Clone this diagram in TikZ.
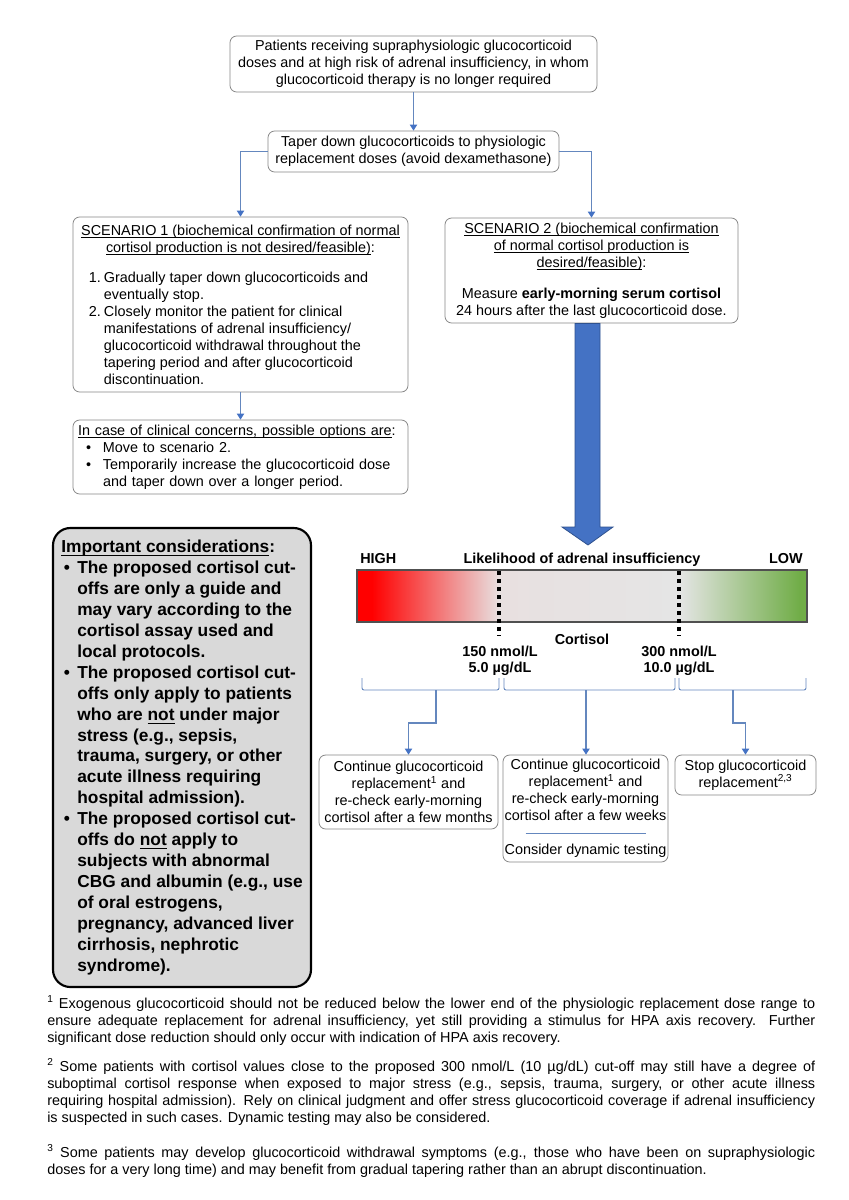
\documentclass[tikz,border=0pt]{standalone}
\usepackage{fontspec}
\setmainfont{Liberation Sans}
\usetikzlibrary{arrows.meta,calc}
\definecolor{boxgray}{RGB}{135,135,135}
\definecolor{connblue}{RGB}{100,135,190}
\definecolor{tipblue}{RGB}{68,114,196}
\definecolor{bigblue}{RGB}{68,114,196}
\definecolor{bigedge}{RGB}{47,82,143}
\definecolor{notefill}{RGB}{217,217,217}
\definecolor{barred}{RGB}{255,0,0}
\definecolor{barpink}{RGB}{232,224,224}
\definecolor{bargray}{RGB}{229,229,229}
\definecolor{barlight}{RGB}{236,236,236}
\definecolor{bargreen}{RGB}{112,173,71}
\definecolor{baredge}{RGB}{80,80,80}
\newcommand{\myul}[1]{\setbox0\hbox{#1}\rlap{\rule[-2.2pt]{\wd0}{0.5pt}}\box0\relax}
\newcommand{\myulb}[1]{\setbox0\hbox{#1}\rlap{\rule[-2.6pt]{\wd0}{0.8pt}}\box0\relax}
\begin{document}
\begin{tikzpicture}[x=0.75pt,y=-0.75pt,
  txt/.style={font=\fontsize{10.8}{12.75}\selectfont},
  btxt/.style={font=\fontsize{10.8}{12.75}\selectfont\bfseries, inner sep=0pt},
  box/.style={txt, draw=boxgray, line width=0.6pt, rounded corners=5pt, align=center, inner sep=0pt},
  conn/.style={draw=connblue, line width=0.8pt, -{Triangle[width=5.5pt,length=4.5pt,color=tipblue]}},
  bracketline/.style={draw=connblue, line width=0.7pt, rounded corners=1.5pt},
  cutline/.style={line width=2.4pt, dash pattern=on 3pt off 3pt},
  ]
\fill[white] (0,0) rectangle (849,1200);
\useasboundingbox (0,0) rectangle (849,1200);

% top boxes
\node[box, minimum width=275.25pt, minimum height=42pt] (start) at (413.5,64)
  {Patients receiving supraphysiologic glucocorticoid\\doses and at high risk of adrenal insufficiency, in whom\\glucocorticoid therapy is no longer required};
\node[box, minimum width=218.25pt, minimum height=30.75pt] (taper) at (413.5,151.5)
  {Taper down glucocorticoids to physiologic\\replacement doses (avoid dexamethasone)};

% scenario 1
\node[box, align=left, inner xsep=3.125pt, minimum width=251.25pt, minimum height=131.25pt] (sc1) at (240.5,304.5)
  {\makebox[245pt][c]{\myul{SCENARIO 1 (biochemical confirmation of normal}}\\
   \makebox[245pt][c]{\myul{cortisol production is not desired/feasible)}:}\\[9.75pt]
   \hspace*{8.85pt}\makebox[11.25pt][l]{1.}Gradually taper down glucocorticoids and\\
   \hspace*{20.1pt}eventually stop.\\
   \hspace*{8.85pt}\makebox[11.25pt][l]{2.}Closely monitor the patient for clinical\\
   \hspace*{20.1pt}manifestations of adrenal insufficiency/\\
   \hspace*{20.1pt}glucocorticoid withdrawal throughout the\\
   \hspace*{20.1pt}tapering period and after glucocorticoid\\
   \hspace*{20.1pt}discontinuation.};

\node[box, align=left, text width=243.75pt, inner xsep=3.75pt, minimum width=251.25pt, minimum height=55.5pt] (concerns) at (240.5,457)
  {\myul{In case of clinical concerns, possible options are}:\\
   \hspace*{6pt}\makebox[12.75pt][l]{•}Move to scenario 2.\\
   \hspace*{6pt}\makebox[12.75pt][l]{•}Temporarily increase the glucocorticoid dose\\
   \hspace*{18.75pt}and taper down over a longer period.};

% scenario 2
\node[box, minimum width=219.75pt, minimum height=78.75pt] (sc2) at (591.5,270.5)
  {\myul{SCENARIO 2 (biochemical confirmation}\\\myul{of normal cortisol production is}\\\myul{desired/feasible)}:\\[10.5pt]
   Measure \textbf{early-morning serum cortisol}\\24 hours after the last glucocorticoid dose.};

% connectors top
\draw[conn] (start.south) -- (taper.north);
\draw[conn] (taper.west) -| (sc1.north);
\draw[conn] (taper.east) -| (sc2.north);
\draw[conn] (sc1.south) -- (concerns.north);

% big arrow
\coordinate (atop) at ($(sc2.south)+(-4,0)$);
\coordinate (atip) at (588,545);
\filldraw[fill=bigblue, draw=bigedge, line width=0.6pt]
  ($(atop)+(-12.5,0)$) -- ($(atop)+(12.5,0)$) -- ($(atip)+(12,-18)$) -- ($(atip)+(25,-18)$)
  -- (atip) -- ($(atip)+(-26,-18)$) -- ($(atip)+(-13,-18)$) -- cycle;

% gradient bar
\fill[barred] (357,570) rectangle (372,622);
\shade[left color=barred, right color=barpink] (372,570) rectangle (499,622);
\shade[left color=barpink, middle color=barlight, right color=bargray] (499,570) rectangle (679,622);
\shade[left color=bargray, right color=bargreen] (679,570) rectangle (800,622);
\fill[bargreen] (800,570) rectangle (807,622);
\node[draw=baredge, line width=0.8pt, minimum width=337.5pt, minimum height=39pt, inner sep=0pt] (bar) at (582,596) {};

\coordinate (c150t) at (499,571);
\coordinate (c150b) at (499,636);
\coordinate (c300t) at (679,571);
\coordinate (c300b) at (679,636);
\draw[cutline] (c150t) -- (c150b);
\draw[cutline] (c300t) -- (c300b);

\node[btxt, anchor=base west] (high) at (360,563) {HIGH};
\node[btxt, anchor=base east] (low) at (803,563) {LOW};
\node[btxt, anchor=base] (likely) at (582,563) {Likelihood of adrenal insufficiency};
\node[btxt, anchor=base] (cortisol) at (582,644) {Cortisol};
\node[btxt, anchor=base] (n150) at (500,656) {150 nmol/L};
\node[btxt, anchor=base] (u150) at (500,672) {5.0 µg/dL};
\node[btxt, anchor=base] (n300) at (679,656) {300 nmol/L};
\node[btxt, anchor=base] (u300) at (679,672) {10.0 µg/dL};

% brackets
\draw[bracketline] (362,678) -- (362,690) -- (499,690) -- (499,678);
\draw[bracketline] (504,678) -- (504,690) -- (675,690) -- (675,678);
\draw[bracketline] (679,678) -- (679,690) -- (806,690) -- (806,678);
\coordinate (b1) at (436,690);
\coordinate (b2) at (586,690);
\coordinate (b3) at (733,690);

% bottom boxes
\node[box, minimum width=134.25pt, minimum height=55.5pt] (boxA) at (408.5,792)
  {Continue glucocorticoid\\replacement\textsuperscript{1} and\\re-check early-morning\\cortisol after a few months};
\node[box, minimum width=123.75pt, minimum height=80.25pt] (boxB) at (585.5,808.5)
  {Continue glucocorticoid\\replacement\textsuperscript{1} and\\re-check early-morning\\cortisol after a few weeks\\\textcolor{connblue}{\rule[3pt]{90pt}{0.6pt}}\\Consider dynamic testing};
\node[box, minimum width=105.75pt, minimum height=30pt] (boxC) at (745.5,775)
  {Stop glucocorticoid\\replacement\textsuperscript{2,3}};

\draw[conn] (b1) -- ++(0,33) -| (boxA.north);
\draw[conn] (b2) -- (b2 |- boxB.north);
\draw[conn] (b3) -- ++(0,33) -| (boxC.north);

% important considerations
\node[draw=black, line width=1.6pt, fill=notefill, rounded corners=13pt, minimum width=193.5pt, minimum height=344.25pt,
      inner sep=0pt, align=left, font=\fontsize{13}{15.7}\selectfont\bfseries] (imp) at (182,757.5)
  {\myulb{Important considerations}:\\
   \makebox[12pt][l]{\hspace{2pt}•}The proposed cortisol cut-\\
   \hspace*{12pt}offs are only a guide and\\
   \hspace*{12pt}may vary according to the\\
   \hspace*{12pt}cortisol assay used and\\
   \hspace*{12pt}local protocols.\\
   \makebox[12pt][l]{\hspace{2pt}•}The proposed cortisol cut-\\
   \hspace*{12pt}offs only apply to patients\\
   \hspace*{12pt}who are \myulb{not} under major\\
   \hspace*{12pt}stress (e.g., sepsis,\\
   \hspace*{12pt}trauma, surgery, or other\\
   \hspace*{12pt}acute illness requiring\\
   \hspace*{12pt}hospital admission).\\
   \makebox[12pt][l]{\hspace{2pt}•}The proposed cortisol cut-\\
   \hspace*{12pt}offs do \myulb{not} apply to\\
   \hspace*{12pt}subjects with abnormal\\
   \hspace*{12pt}CBG and albumin (e.g., use\\
   \hspace*{12pt}of oral estrogens,\\
   \hspace*{12pt}pregnancy, advanced liver\\
   \hspace*{12pt}cirrhosis, nephrotic\\
   \hspace*{12pt}syndrome).};

% footnotes
\node[txt, anchor=north west, inner sep=0pt, align=left] (fn1) at (47,995.5)
  {\makebox[576pt][s]{\textsuperscript{1} Exogenous glucocorticoid should not be reduced below the lower end of the physiologic replacement dose range to}\\
   \makebox[576pt][s]{ensure adequate replacement for adrenal insufficiency, yet still providing a stimulus for HPA axis recovery. Further}\\
   significant dose reduction should only occur with indication of HPA axis recovery.};
\node[txt, anchor=north west, inner sep=0pt, align=left] (fn2) at (47,1058.5)
  {\makebox[576pt][s]{\textsuperscript{2} Some patients with cortisol values close to the proposed 300 nmol/L (10 µg/dL) cut-off may still have a degree of}\\
   \makebox[576pt][s]{suboptimal cortisol response when exposed to major stress (e.g., sepsis, trauma, surgery, or other acute illness}\\
   \makebox[576pt][s]{requiring hospital admission). Rely on clinical judgment and offer stress glucocorticoid coverage if adrenal insufficiency}\\
   is suspected in such cases. Dynamic testing may also be considered.};
\node[txt, anchor=north west, inner sep=0pt, align=left] (fn3) at (47,1144.5)
  {\makebox[576pt][s]{\textsuperscript{3} Some patients may develop glucocorticoid withdrawal symptoms (e.g., those who have been on supraphysiologic}\\
   doses for a very long time) and may benefit from gradual tapering rather than an abrupt discontinuation.};
\end{tikzpicture}
\end{document}
